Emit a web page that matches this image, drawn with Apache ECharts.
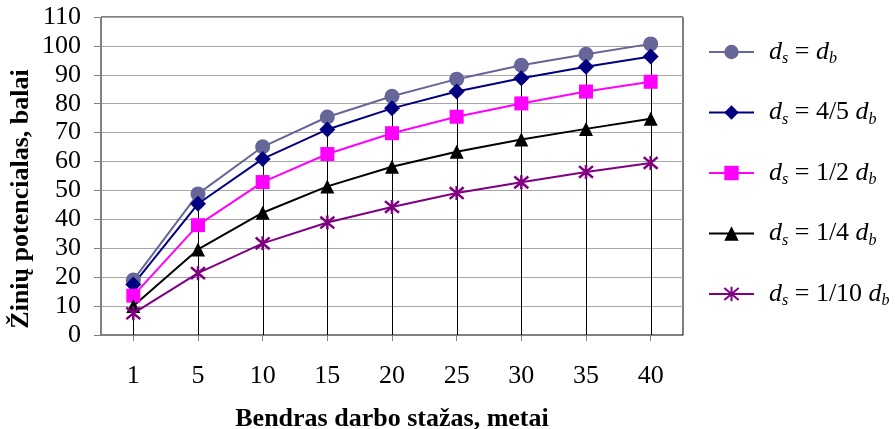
<!DOCTYPE html>
<html>
<head>
<meta charset="utf-8">
<script src="https://cdn.jsdelivr.net/npm/echarts@6/dist/echarts.min.js"></script>
<style>
  html, body { margin: 0; padding: 0; background: #fff; }
  #chart { width: 896px; height: 429px; }
</style>
</head>
<body>
<div id="chart"></div>
<script>
// Years of total work experience (category axis)
const years = ['1', '5', '10', '15', '20', '25', '30', '35', '40'];

// Knowledge potential (points) for each specialisation ratio d_s / d_b
const dsEqualDb   = [19, 48.8, 65.1, 75.4, 82.6, 88.5, 93.3, 97.1, 100.7];
const dsFourFifth = [17.5, 45.4, 60.9, 71.1, 78.4, 84.2, 88.8, 92.8, 96.3];
const dsHalf      = [13.6, 38, 52.9, 62.6, 69.8, 75.5, 80.1, 84.2, 87.6];
const dsQuarter   = [10, 29.6, 42.3, 51.4, 58.2, 63.4, 67.6, 71.3, 74.8];
const dsTenth     = [7.5, 21.4, 31.7, 38.9, 44.3, 49.1, 52.8, 56.4, 59.5];

// Legend fractions shown before d_b
const ratioLabels = ['', '4/5 ', '1/2 ', '1/4 ', '1/10 '];

const yTicks = { min: 0, max: 110, step: 10 };

const serif = 'Liberation Serif';
const all = [dsEqualDb, dsFourFifth, dsHalf, dsQuarter, dsTenth];
const dropTops = years.map((_, i) => Math.max(...all.map(s => s[i])));

const names = ratioLabels.map((r, i) => 'ds' + i);
const legendText = {};
ratioLabels.forEach((r, i) => {
  legendText[names[i]] = '{d|d}{sub|s}{t| = ' + r + '}{d|d}{sub|b}';
});

const asterisk = 'path://M-10,-10L10,10M-10,10L10,-10M0,-12L0,12';

function lineSeries(idx, data, color, symbol, size, extra) {
  return Object.assign({
    name: names[idx],
    type: 'line',
    data: data,
    symbol: symbol,
    symbolSize: size,
    lineStyle: { color: color, width: 2 },
    itemStyle: { color: color },
    z: 3,
    animation: false
  }, extra || {});
}

const chart = echarts.init(document.getElementById('chart'), null, { renderer: 'canvas' });
chart.setOption({
  animation: false,
  backgroundColor: '#fff',
  grid: {
    left: 101, right: 213, top: 17, bottom: 94,
    containLabel: false,
    outerBoundsMode: 'none',
    show: true, borderColor: '#000', borderWidth: 1, backgroundColor: 'transparent'
  },
  legend: {
    orient: 'vertical',
    left: 703, top: 34,
    itemWidth: 45, itemHeight: 18,
    itemGap: 32.5,
    data: names,
    formatter: n => legendText[n],
    textStyle: {
      padding: [0, 0, 0, 10],
      rich: {
        d: { fontFamily: serif, fontStyle: 'italic', fontSize: 26, color: '#000', lineHeight: 30 },
        t: { fontFamily: serif, fontSize: 26, color: '#000', lineHeight: 30 },
        sub: { fontFamily: serif, fontStyle: 'italic', fontSize: 16, color: '#000', lineHeight: 15, verticalAlign: 'bottom' }
      }
    }
  },
  xAxis: {
    type: 'category',
    data: years,
    boundaryGap: true,
    axisLine: { lineStyle: { color: '#808080', width: 1 } },
    axisTick: { show: true, alignWithLabel: true, length: 6, lineStyle: { color: '#808080' } },
    axisLabel: { fontFamily: serif, fontSize: 26, color: '#000', margin: 28 },
    name: 'Bendras darbo stažas, metai',
    nameLocation: 'middle',
    nameGap: 71,
    nameTextStyle: { fontFamily: serif, fontSize: 26, fontWeight: 'bold', color: '#000' }
  },
  yAxis: {
    type: 'value',
    min: yTicks.min, max: yTicks.max, interval: yTicks.step,
    axisLine: { show: true, lineStyle: { color: '#808080', width: 1 } },
    axisTick: { show: true, length: 7, lineStyle: { color: '#808080' } },
    axisLabel: { fontFamily: serif, fontSize: 26, color: '#000', margin: 20 },
    splitLine: { lineStyle: { color: '#a6a6a6', width: 1 } }
  },
  graphic: [{
    type: 'text',
    x: 21, y: 199,
    rotation: Math.PI / 2,
    style: {
      text: 'Žinių potencialas, balai',
      font: 'bold 26px "Liberation Serif"',
      fill: '#000',
      align: 'center',
      verticalAlign: 'middle'
    }
  }],
  series: [
    {
      // vertical drop lines from the highest point of each category down to the axis
      type: 'custom',
      data: dropTops.map((v, i) => [i, v]),
      z: 1,
      silent: true,
      renderItem: (params, api) => {
        const top = api.coord([api.value(0), api.value(1)]);
        const bottom = api.coord([api.value(0), 0]);
        const x = Math.round(top[0]) + 0.5;
        return {
          type: 'line',
          shape: { x1: x, y1: top[1], x2: x, y2: bottom[1] },
          style: { stroke: '#000', lineWidth: 1 }
        };
      }
    },
    lineSeries(0, dsEqualDb, '#666699', 'circle', 15),
    lineSeries(1, dsFourFifth, '#000080', 'diamond', 16),
    lineSeries(2, dsHalf, '#ff00ff', 'rect', 14),
    lineSeries(3, dsQuarter, '#000000', 'triangle', 14),
    lineSeries(4, dsTenth, '#800080', asterisk, 14, {
      itemStyle: { color: '#800080', borderColor: '#800080', borderWidth: 2.5 }
    })
  ]
});
</script>
</body>
</html>
